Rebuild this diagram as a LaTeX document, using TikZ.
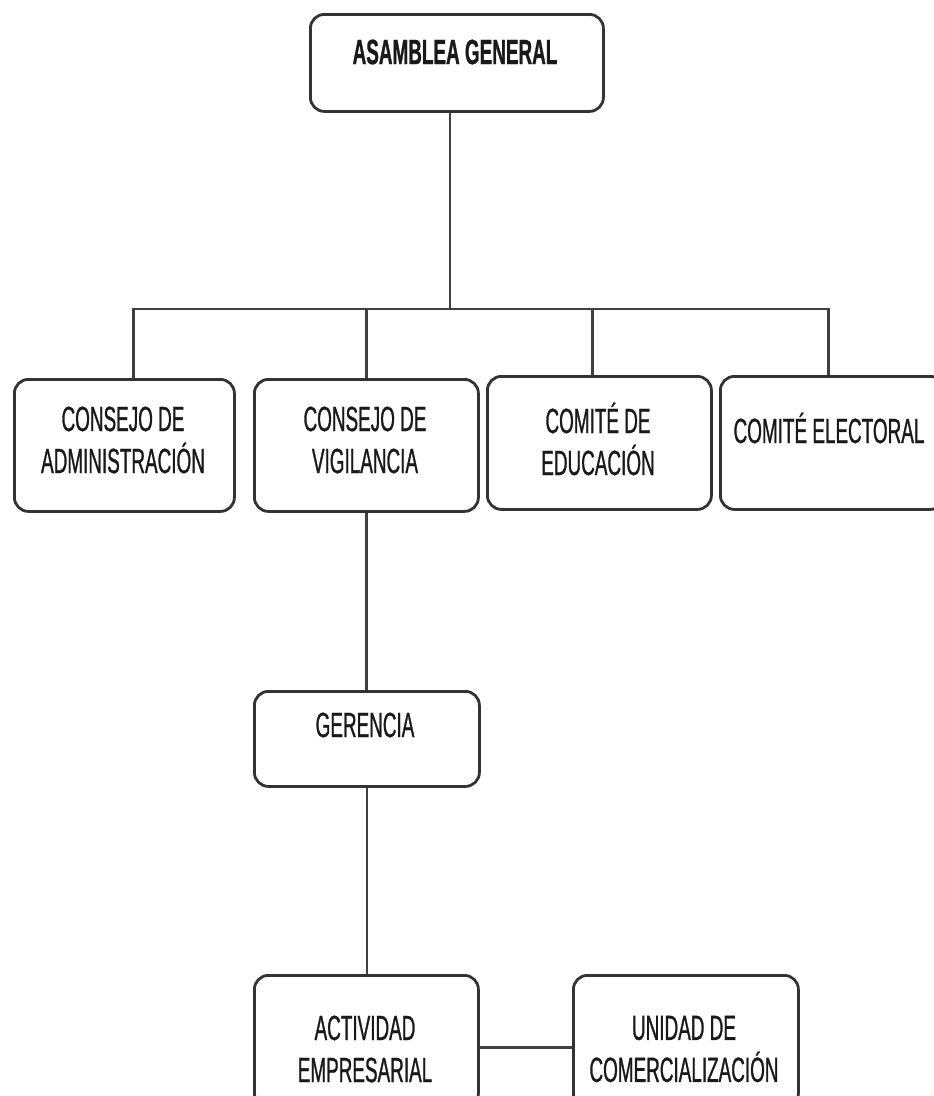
\documentclass[tikz,border=0pt]{standalone}
\usepackage{fontspec}
\setmainfont[FakeStretch=0.54,FakeBold=0.8]{Liberation Sans}
\begin{document}
\begin{tikzpicture}[x=1pt,y=-1pt,
  box/.style={draw=black!80, line width=2.8pt, rounded corners=14pt, inner sep=0pt, anchor=north west},
  txt/.style={align=center, font=\fontsize{35}{42}\selectfont, text=black!90, inner sep=0pt},
  conn/.style={draw=black!75, line width=2.2pt}]
\useasboundingbox (0,0) rectangle (934,1096);
% boxes
\node[box, minimum width=293pt, minimum height=97pt] (ag) at (309,13) {};
\node[box, minimum width=220pt, minimum height=132pt] (ca) at (13,378) {};
\node[box, minimum width=224pt, minimum height=132pt] (cv) at (253,378) {};
\node[box, minimum width=224pt, minimum height=133pt] (ce) at (486,375) {};
\node[box, minimum width=224pt, minimum height=133pt] (cel) at (719,375) {};
\node[box, minimum width=225pt, minimum height=95pt] (ger) at (253,690) {};
\node[box, minimum width=224pt, minimum height=132pt] (act) at (253,974) {};
\node[box, minimum width=225pt, minimum height=132pt] (uni) at (572,974) {};
% texts
\node[txt, font=\fontsize{35}{42}\selectfont\bfseries] (tag) at (455,52) {ASAMBLEA GENERAL};
\node[txt] (tca) at (123,440) {CONSEJO DE\\ADMINISTRACIÓN};
\node[txt] (tcv) at (365,440) {CONSEJO DE\\VIGILANCIA};
\node[txt] (tce) at (598,439) {COMITÉ DE\\EDUCACIÓN};
\node[txt] (tcel) at (829,428) {COMITÉ ELECTORAL};
\node[txt] (tger) at (365,725) {GERENCIA};
\node[txt] (tact) at (365,1049) {ACTIVIDAD\\EMPRESARIAL};
\node[txt] (tuni) at (684,1049) {UNIDAD DE\\COMERCIALIZACIÓN};
% connectors
\coordinate (bus) at (450,309);
\draw[conn] (bus |- ag.south) -- (bus);
\draw[conn] ([xshift=9pt]ca.north) |- ([xshift=-4pt]cel.north |- bus) -- ([xshift=-4pt]cel.north);
\draw[conn] (cv.north) -- (cv.north |- bus);
\draw[conn] ([xshift=-7pt]ce.north) -- ([xshift=-7pt]ce.north |- bus);
\draw[conn] (cv.south) -- (cv.south |- ger.north);
\draw[conn] (ger.south) -- (ger.south |- act.north);
\draw[conn] ([yshift=-6pt]act.east) -- ([yshift=-6pt]act.east -| uni.west);
\end{tikzpicture}
\end{document}
